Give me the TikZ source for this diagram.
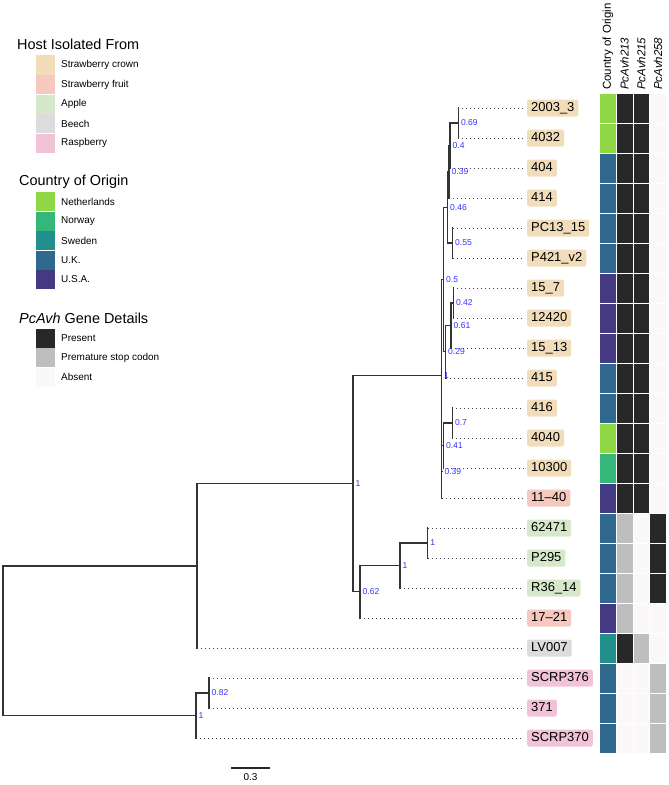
\documentclass[tikz,border=0pt]{standalone}
\usepackage{fontspec}
\setmainfont{Liberation Sans}
\usetikzlibrary{calc}
\definecolor{crown}{HTML}{F2DDBB}
\definecolor{fruit}{HTML}{F6C9BF}
\definecolor{apple}{HTML}{D5E8CA}
\definecolor{beech}{HTML}{DCDCDC}
\definecolor{rasp}{HTML}{F1C3D7}
\definecolor{nl}{HTML}{8FD744}
\definecolor{no}{HTML}{35B779}
\definecolor{se}{HTML}{21908C}
\definecolor{uk}{HTML}{31688E}
\definecolor{usa}{HTML}{443A83}
\definecolor{pres}{HTML}{282828}
\definecolor{stop}{HTML}{BEBEBE}
\definecolor{abs}{HTML}{FBF8FA}
\definecolor{bootblue}{HTML}{3333FF}
\tikzset{
 branch/.style={draw=black!80, line width=1.3bp, line cap=rect},
 leader/.style={draw=black!75, line width=1bp, dash pattern=on 1bp off 3bp, shorten >=3bp},
 tip/.style={anchor=west, rounded corners=2bp, inner xsep=4bp, inner ysep=2.5bp, text height=9.5bp, text depth=2.5bp, font=\fontsize{13}{15}\selectfont},
 boot/.style={anchor=west, text=bootblue, inner sep=1bp, xshift=1.5bp, font=\fontsize{8.6}{10}\selectfont},
 legtitle/.style={anchor=west, inner sep=0, font=\fontsize{14.5}{16}\selectfont},
 legtext/.style={anchor=west, inner sep=0, font=\fontsize{10}{12}\selectfont},
 head/.style={anchor=west, rotate=90, inner sep=0, font=\fontsize{11.5}{13}\selectfont}
}
\begin{document}
\begin{tikzpicture}[x=1bp, y=-1bp]
\useasboundingbox (0,0) rectangle (669,785);
\node[legtitle] (hosttitle) at (17,44) {Host Isolated From};
\foreach \col/\txt [count=\i from 0] in {crown/Strawberry crown, fruit/Strawberry fruit, apple/Apple, beech/Beech, rasp/Raspberry} {
 \fill[\col] (36,55.5+19.6*\i) rectangle ++(19,19);
 \node[legtext] (host\i) at (61,65+19.6*\i) {\txt};
}
\node[legtitle] (countrytitle) at (19,182) {Country of Origin};
\foreach \col/\txt [count=\i from 0] in {nl/Netherlands, no/Norway, se/Sweden, uk/U.K., usa/U.S.A.} {
 \fill[\col] (36,192+19.5*\i) rectangle ++(19,19);
 \node[legtext] (country\i) at (61,201.5+19.5*\i) {\txt};
}
\node[legtitle] (genetitle) at (19,318) {\textit{PcAvh} Gene Details};
\foreach \col/\txt [count=\i from 0] in {pres/Present, stop/Premature stop codon, abs/Absent} {
 \fill[\col] (36,329+19.4*\i) rectangle ++(19,19);
 \node[legtext] (gene\i) at (61,338.5+19.4*\i) {\txt};
}
\coordinate (root) at (3,640.7);
\coordinate (nB) at (197,565.85);
\coordinate (nV) at (196,715.5);
\coordinate (nW) at (209,693);
\coordinate (nC) at (353,483.7);
\coordinate (nE) at (360,591.75);
\coordinate (nF) at (400,565.5);
\coordinate (nG) at (427.7,543);
\coordinate (nD) at (441.5,375.66);
\coordinate (nM) at (443.5,279.56);
\coordinate (nK) at (447.5,207.38);
\coordinate (nJ) at (449,171.75);
\coordinate (nI) at (450,145.5);
\coordinate (nH) at (458.3,123);
\coordinate (nL) at (452.5,243);
\coordinate (nR) at (445.5,351.75);
\coordinate (nQ) at (451,325.5);
\coordinate (nP) at (453.3,303);
\coordinate (nU) at (441.8,471.75);
\coordinate (nT) at (443.3,445.5);
\coordinate (nS) at (452.3,423);
\foreach \a/\b in {root/nB, root/nV, nB/nC, nV/nW, nC/nD, nC/nE, nE/nF, nF/nG, nD/nM, nD/nU, nM/nK, nM/nR, nK/nJ, nK/nL, nJ/nI, nI/nH, nR/nQ, nQ/nP, nU/nT, nT/nS}
 \draw[branch] (\a) |- (\b);
\foreach \p/\h/\lab [count=\i from 0] in {nH/crown/2003\_3, nH/crown/4032, nI/crown/404, nJ/crown/414, nL/crown/PC13\_15, nL/crown/P421\_v2, nP/crown/15\_7, nP/crown/12420, nQ/crown/15\_13, nR/crown/415, nS/crown/416, nS/crown/4040, nT/crown/10300, nU/fruit/11--40, nG/apple/62471, nG/apple/P295, nF/apple/R36\_14, nE/fruit/17--21, nB/beech/LV007, nW/rasp/SCRP376, nW/rasp/371, nV/rasp/SCRP370} {
 \node[tip, fill=\h] (tip\i) at (527,108+30*\i) {\lab};
 \draw[branch] (\p) -- (\p |- tip\i.west);
 \draw[leader] (\p |- tip\i.west) -- (tip\i.west);
}
\foreach \n/\v in {nH/0.69, nI/0.4, nJ/0.39, nK/0.46, nL/0.55, nM/0.5, nP/0.42, nQ/0.61, nR/0.29, nD/1, nS/0.7, nT/0.41, nU/0.39, nC/1, nG/1, nF/1, nE/0.62, nW/0.82, nV/1}
 \node[boot] (b\n) at (\n) {\v};
\foreach \co/\ga/\gb/\gc [count=\i from 0] in {nl/pres/pres/abs, nl/pres/pres/abs, uk/pres/pres/abs, uk/pres/pres/abs, uk/pres/pres/abs, uk/pres/pres/abs, usa/pres/pres/abs, usa/pres/pres/abs, usa/pres/pres/abs, uk/pres/pres/abs, uk/pres/pres/abs, nl/pres/pres/abs, no/pres/pres/abs, usa/pres/pres/abs, uk/stop/abs/pres, uk/stop/abs/pres, uk/stop/abs/pres, usa/stop/abs/abs, se/pres/stop/abs, uk/abs/abs/stop, uk/abs/abs/stop, uk/abs/abs/stop} {
 \foreach \cc [count=\k from 0] in {\co,\ga,\gb,\gc}
  \filldraw[fill=\cc, draw=white, line width=0.4bp] (599.5+16.7*\k,93+30*\i) rectangle ++(16.7,30);
}
\node[head] (hcountry) at (607.9,90) {Country of Origin};
\node[head] (h213) at (624.6,90) {\textit{PcAvh213}};
\node[head] (h215) at (641.3,90) {\textit{PcAvh215}};
\node[head] (h258) at (658,90) {\textit{PcAvh258}};
\coordinate (sbl) at (231,768);
\coordinate (sbr) at (270,768);
\draw[line width=1.2bp, black!85] (sbl) -- (sbr);
\node[legtext, anchor=north] (sbtext) at ($(sbl)!0.5!(sbr)+(0,5)$) {0.3};
\end{tikzpicture}
\end{document}
